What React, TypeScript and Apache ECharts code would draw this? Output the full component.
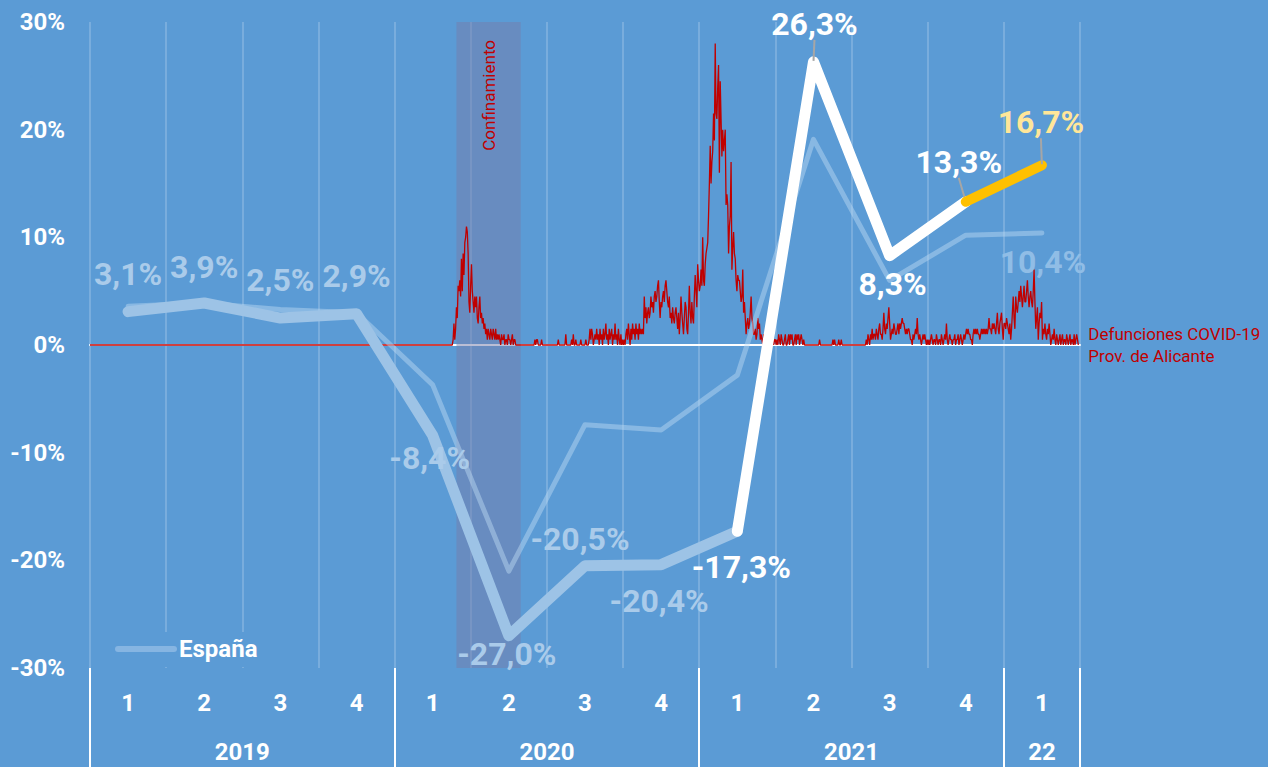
import React, { useEffect, useRef } from "react";
import * as echarts from "echarts";

// ---------- data ----------
const quarters = ["1", "2", "3", "4", "1", "2", "3", "4", "1", "2", "3", "4", "1"];
const years = ["2019", "2020", "2021", "22"];
const quartersPerYear = [4, 4, 4, 1];
const yTicks = [-30, -20, -10, 0, 10, 20, 30];

// thick line (Prov. de Alicante)
const alicante = [3.1, 3.9, 2.5, 2.9, -8.4, -27.0, -20.5, -20.4, -17.3, 26.3, 8.3, 13.3, 16.7];
// thin line (España)
const espana = [3.6, 3.9, 3.3, 3.0, -3.7, -21.0, -7.4, -7.9, -2.8, 19.1, 6.0, 10.2, 10.4];

// daily COVID-19 deaths, Prov. de Alicante
const deathsZeroFrom = "2019-01-01";
const deathsStart = "2020-03-08";
const deathsDaily = [
  // Mar 2020 (from 8th)
  0, 0, 0, 1, 4, 1, 3, 7, 5, 11, 10, 12, 9, 16, 10, 17, 13, 19, 20, 22, 21, 17, 8, 6,
  // Apr 2020
  11, 15, 10, 8, 6, 9, 7, 9, 5, 4, 7, 9, 5, 6, 4, 5, 3, 4, 2, 3, 1, 3, 2, 1, 3, 2, 1, 3, 2, 1,
  // May 2020
  3, 1, 2, 1, 2, 1, 0, 2, 1, 1, 2, 0, 1, 1, 0, 2, 1, 1, 0, 1, 2, 0, 1, 1, 0, 0, 0, 0, 0, 0, 0,
  // Jun 2020
  0, 0, 0, 0, 0, 0, 0, 0, 0, 0, 0, 0, 0, 0, 0, 0, 1, 0, 1, 1, 0, 0, 0, 0, 1, 0, 0, 0, 0, 0,
  // Jul 2020
  0, 0, 0, 0, 0, 0, 0, 0, 0, 0, 0, 0, 0, 0, 1, 0, 0, 0, 0, 0, 0, 0, 0, 2, 0, 0, 0, 0, 0, 0, 1,
  // Aug 2020
  0, 2, 0, 0, 1, 0, 0, 0, 0, 0, 1, 0, 0, 0, 0, 0, 1, 0, 0, 0, 1, 3, 1, 3, 2, 0, 1, 2, 1, 3, 1,
  // Sep 2020
  2, 0, 3, 1, 2, 0, 3, 1, 2, 4, 1, 2, 0, 3, 1, 2, 3, 0, 2, 1, 4, 1, 2, 0, 3, 1, 0, 2, 0, 1,
  // Oct 2020
  0, 1, 0, 2, 3, 1, 4, 2, 0, 3, 1, 4, 2, 3, 1, 4, 2, 3, 1, 4, 2, 3, 2, 3, 2, 9, 5, 7, 4, 6, 7,
  // Nov 2020
  5, 6, 9, 7, 8, 6, 9, 10, 8, 9, 11, 12, 8, 5, 8, 7, 9, 10, 8, 11, 12, 10, 8, 7, 9, 5, 6, 4, 7, 5,
  // Dec 2020
  4, 6, 7, 5, 3, 6, 2, 5, 9, 6, 4, 2, 5, 8, 7, 3, 2, 6, 11, 6, 4, 8, 5, 4, 9, 13, 10, 7, 15, 12, 10,
  // Jan 2021
  11, 14, 11, 20, 12, 11, 15, 17, 18, 19, 24, 30, 37, 30, 34, 36, 43, 38, 56, 43, 42, 48, 52, 32, 49, 42, 35, 40, 36, 38, 40,
  // Feb 2021
  26, 28, 26, 17, 22, 24, 34, 14, 18, 21, 17, 16, 12, 10, 13, 12, 12, 10, 8, 9, 14, 6, 8, 5, 2, 4, 5, 3,
  // Mar 2021
  4, 6, 9, 5, 4, 2, 2, 3, 1, 2, 5, 3, 4, 1, 2, 1, 0, 2, 1, 0, 1, 2, 0, 1, 0, 1, 0, 2, 1, 0, 1,
  // Apr 2021
  1, 0, 1, 0, 2, 1, 0, 2, 1, 0, 0, 1, 2, 0, 0, 1, 2, 0, 2, 1, 2, 0, 0, 1, 2, 0, 2, 1, 2, 0,
  // May 2021
  1, 2, 1, 0, 1, 0, 0, 0, 0, 0, 0, 0, 0, 0, 0, 0, 0, 0, 0, 0, 0, 0, 0, 1, 0, 0, 0, 0, 0, 0, 0,
  // Jun 2021
  0, 0, 0, 0, 0, 0, 0, 0, 1, 0, 1, 0, 0, 0, 0, 1, 0, 0, 1, 0, 0, 0, 0, 0, 0, 0, 0, 0, 0, 0,
  // Jul 2021
  0, 0, 0, 0, 0, 0, 0, 0, 0, 0, 0, 0, 0, 0, 0, 0, 0, 0, 1, 0, 2, 1, 0, 2, 1, 3, 1, 2, 2, 1, 3,
  // Aug 2021
  2, 1, 3, 4, 2, 2, 1, 3, 6, 3, 2, 4, 3, 5, 7, 4, 1, 2, 3, 2, 4, 3, 2, 2, 3, 4, 2, 4, 3, 4, 5,
  // Sep 2021
  4, 4, 3, 2, 3, 2, 3, 3, 2, 1, 1, 0, 2, 1, 2, 3, 2, 5, 2, 1, 2, 1, 0, 1, 2, 1, 2, 1, 0, 1,
  // Oct 2021
  0, 1, 0, 1, 2, 1, 0, 1, 1, 0, 2, 1, 0, 1, 1, 0, 2, 1, 0, 1, 2, 1, 4, 1, 0, 1, 2, 1, 1, 0, 1,
  // Nov 2021
  1, 2, 0, 1, 1, 2, 0, 1, 2, 1, 0, 1, 2, 1, 2, 3, 2, 3, 2, 2, 1, 1, 0, 2, 3, 2, 3, 2, 3, 2,
  // Dec 2021
  2, 1, 2, 3, 2, 3, 2, 3, 2, 3, 2, 3, 5, 3, 3, 2, 4, 3, 4, 3, 2, 4, 6, 3, 2, 4, 5, 6, 3, 1, 4,
  // Jan 2022
  4, 3, 5, 4, 3, 2, 4, 1, 3, 6, 9, 5, 3, 9, 7, 6, 8, 10, 8, 11, 9, 7, 9, 11, 8, 8, 10, 12, 9, 7, 9,
  // Feb 2022
  10, 8, 7, 10, 14, 8, 3, 5, 7, 1, 4, 6, 5, 8, 1, 3, 2, 4, 2, 1, 3, 2, 4, 2, 0, 1, 2, 1,
  // Mar 2022
  3, 1, 0, 2, 1, 0, 1, 2, 0, 1, 2, 0, 1, 1, 0, 2, 1, 0, 1, 2, 0, 1, 1, 0, 2, 0, 1, 2, 1, 0,
];
const timeRange = ["2019-01-01", "2022-04-01"];
const confinamiento = ["2020-03-15", "2020-05-31"];

// ---------- styles ----------
const BG = "#5B9BD5";
const FONT = "Roboto, 'Noto Sans', sans-serif";
const PALE_LINE = "#9DC3E6";
const PALE_LABEL = "#AACBEA";
const THIN_LINE = "rgba(190,220,245,0.45)";
const THIN_LABEL = "#90BDE6";
const ORANGE = "#FFC000";
const ORANGE_LABEL = "#FFE699";
const RED = "#C00000";
const labelOffsets = [
  [0, -38], [0, -36], [0, -38], [0, -38], [-3, 23], [-2, 18], [-5, -27],
  [-2, 36], [4, 36], [1, -38], [3, 28], [-7, -40], [-1, -43],
];
const espanaLabelOffset = [1, 29];
const leaderIdx = [9, 11, 12];

const fmt = (v: number) => v.toFixed(1).replace(".", ",") + "%";
const ts = (d: string) => Date.parse(d + "T00:00:00Z");

export default function App() {
  const ref = useRef<HTMLDivElement>(null);
  useEffect(() => {
    const chart = echarts.init(ref.current!, undefined, { renderer: "svg" });
    const DAY = 86400000;
    const t0 = ts(deathsStart);
    const redData: [number, number][] = [
      [ts(deathsZeroFrom), 0],
      ...deathsDaily.map((v, i) => [t0 + i * DAY, v] as [number, number]),
    ];
    const bounds = [0];
    quartersPerYear.forEach((q) => bounds.push(bounds[bounds.length - 1] + q));
    const centers = quartersPerYear.map((q, i) => bounds[i] + q / 2);

    const lastPale = 8;
    const lastWhite = 11;
    const labelBase = {
      fontFamily: FONT,
      fontWeight: "bold",
      fontSize: 32,
      position: "inside",
    };
    const mkItem = (i: number, from: number, to: number, labelFrom: number, labelTo: number, color: string) => {
      if (i < from || i > to) return "-";
      const showLabel = i >= labelFrom && i <= labelTo;
      const item: any = {
        value: alicante[i],
        label: { show: showLabel, color },
      };
      if (showLabel && leaderIdx.includes(i)) {
        item.labelLine = { show: true, lineStyle: { color: "#A6A6A6", width: 2 } };
      }
      return item;
    };
    const layoutFn = (p: any) => {
      const o = labelOffsets[p.dataIndex] || [0, 0];
      return { dx: o[0], dy: o[1] };
    };
    const thickCommon = {
      type: "line",
      xAxisIndex: 0,
      yAxisIndex: 0,
      symbol: "circle",
      symbolSize: 2,
      showSymbol: true,
      itemStyle: { color: "rgba(0,0,0,0)" },
      connectNulls: false,
      label: { ...labelBase, formatter: (p: any) => fmt(p.value) },
      labelLayout: layoutFn,
      emphasis: { disabled: true },
      silent: true,
    };

    const option: any = {
      animation: false,
      backgroundColor: BG,
      textStyle: { fontFamily: FONT },
      grid: { left: 90, right: 188, top: 22, bottom: 99, containLabel: false },
      legend: {
        data: ["España"],
        left: 105,
        top: 632,
        padding: [5, 8, 6, 10],
        backgroundColor: BG,
        itemWidth: 56,
        itemHeight: 14,
        lineStyle: { width: 6, color: "#86B5E2", cap: "round" },
        textStyle: { color: "#fff", fontSize: 24, fontWeight: "bold", fontFamily: FONT },
        selectedMode: false,
      },
      xAxis: [
        {
          type: "category",
          data: quarters,
          position: "bottom",
          boundaryGap: true,
          axisLine: { show: false, onZero: false },
          axisTick: { show: false },
          axisLabel: { color: "#fff", fontSize: 24, fontWeight: "bold", fontFamily: FONT, margin: 23, interval: 0 },
          splitLine: { show: true, interval: 0, lineStyle: { color: "rgba(255,255,255,0.25)", width: 1.5 } },
        },
        {
          type: "value",
          min: bounds[0],
          max: bounds[bounds.length - 1],
          position: "bottom",
          axisLine: { show: false, onZero: false },
          splitLine: { show: false },
          axisTick: { show: true, customValues: bounds, length: 99, lineStyle: { color: "#fff", width: 2 } },
          axisLabel: {
            customValues: centers,
            formatter: (v: number) => {
              const k = centers.findIndex((c) => Math.abs(c - v) < 1e-6);
              return k >= 0 ? years[k] : "";
            },
            color: "#fff",
            fontSize: 24,
            fontWeight: "bold",
            fontFamily: FONT,
            margin: 72,
          },
        },
        {
          type: "time",
          min: ts(timeRange[0]),
          max: ts(timeRange[1]),
          position: "bottom",
          axisLine: { show: true, onZero: true, onZeroAxisIndex: 0, lineStyle: { color: "#fff", width: 2 } },
          axisTick: { show: false },
          axisLabel: { show: false },
          splitLine: { show: false },
        },
      ],
      yAxis: [
        {
          type: "value",
          min: yTicks[0],
          max: yTicks[yTicks.length - 1],
          interval: yTicks[1] - yTicks[0],
          axisLine: { show: false },
          axisTick: { show: false },
          splitLine: { show: false },
          axisLabel: { formatter: "{value}%", color: "#fff", fontSize: 24, fontWeight: "bold", fontFamily: FONT, margin: 25 },
        },
        { type: "value", min: -60, max: 60, show: false },
      ],
      series: [
        {
          name: "Defunciones",
          type: "line",
          xAxisIndex: 2,
          yAxisIndex: 1,
          data: redData,
          symbol: "none",
          showSymbol: false,
          clip: false,
          lineStyle: { color: RED, width: 1.3 },
          z: 1,
          silent: true,
          endLabel: {
            show: true,
            formatter: "Defunciones COVID-19\nProv. de Alicante",
            color: RED,
            fontSize: 17,
            fontFamily: FONT,
            lineHeight: 22,
            distance: 10,
          },
          markArea: {
            silent: true,
            itemStyle: { color: "rgba(117,125,171,0.5)" },
            label: {
              show: true,
              formatter: "Confinamiento",
              position: "insideTop",
              rotate: 90,
              align: "right",
              verticalAlign: "middle",
              distance: 18,
              color: RED,
              fontSize: 17,
              fontFamily: FONT,
            },
            data: [[{ xAxis: ts(confinamiento[0]), yAxis: 60 }, { xAxis: ts(confinamiento[1]), yAxis: -62.8 }]],
          },
        },
        {
          name: "España",
          type: "line",
          xAxisIndex: 0,
          yAxisIndex: 0,
          data: espana.map((v, i) => ({
            value: v,
            label: { show: i === espana.length - 1 },
          })),
          symbol: "circle",
          symbolSize: 2,
          showSymbol: true,
          itemStyle: { color: "rgba(0,0,0,0)" },
          lineStyle: { color: THIN_LINE, width: 5, cap: "round", join: "round" },
          label: { ...labelBase, color: THIN_LABEL, formatter: (p: any) => fmt(p.value) },
          labelLayout: () => ({ dx: espanaLabelOffset[0], dy: espanaLabelOffset[1] }),
          z: 2,
          silent: true,
        },
        {
          ...thickCommon,
          name: "Alicante",
          data: alicante.map((_, i) => mkItem(i, 0, lastPale, 0, lastPale - 1, PALE_LABEL)),
          lineStyle: { color: PALE_LINE, width: 11, cap: "round", join: "round" },
          z: 3,
        },
        {
          ...thickCommon,
          name: "Alicante2",
          data: alicante.map((_, i) => mkItem(i, lastPale, lastWhite, lastPale, lastWhite, "#FFFFFF")),
          lineStyle: { color: "#FFFFFF", width: 11, cap: "round", join: "round" },
          z: 4,
        },
        {
          ...thickCommon,
          name: "Alicante3",
          data: alicante.map((_, i) => mkItem(i, lastWhite, alicante.length - 1, lastWhite + 1, alicante.length - 1, ORANGE_LABEL)),
          lineStyle: { color: ORANGE, width: 10, cap: "round", join: "round" },
          z: 5,
        },
      ],
    };
    chart.setOption(option);
    return () => chart.dispose();
  }, []);
  return <div ref={ref} style={{ position: "fixed", left: 0, top: 0, width: 1268, height: 767 }} />;
}
